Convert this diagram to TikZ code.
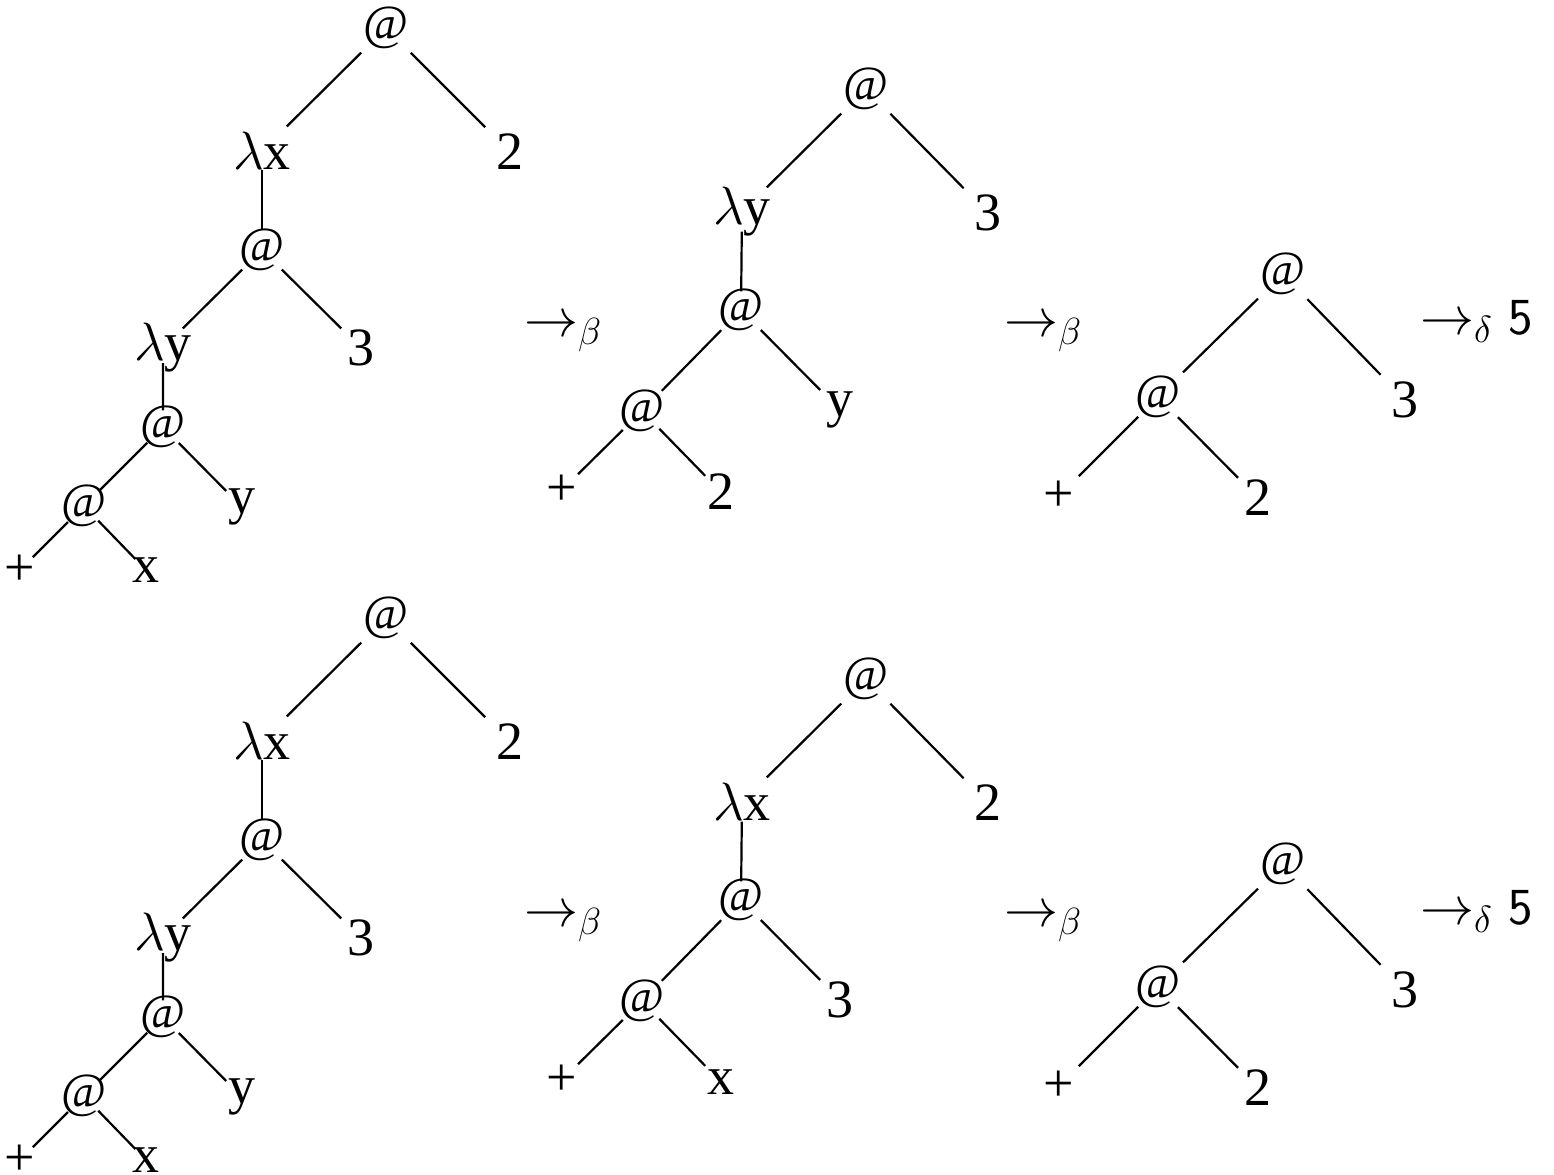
\RequirePackage{fix-cm}
\documentclass[tikz,border=0pt]{standalone}
\usepackage{fontspec}
\setmainfont{Liberation Serif}
\usetikzlibrary{calc}
\newcommand\tedge[4]{\draw[edge] ($(#1)!#3!(#2)$) -- ($(#1)!#4!(#2)$);}
\newcommand\AT{{\fontsize{24.5}{26}\selectfont @}}
% tree with two lambdas (left column)
\newcommand\treeA[1]{%
  \node[lab] (#1a1) at (386,28) {\AT};
  \node[lab] (#1a2) at (262,151) {$\lambda$x};
  \node[lab] (#1a3) at (510,152) {2};
  \node[lab] (#1a4) at (262,250) {\AT};
  \node[lab] (#1a5) at (163,348) {$\lambda$y};
  \node[lab] (#1a6) at (361,348) {3};
  \node[lab] (#1a7) at (163,427) {\AT};
  \node[lab] (#1a8) at (242,507) {y};
  \node[lab] (#1a9) at (84,506) {\AT};
  \node[lab] (#1a10) at (20,570) {+};
  \node[lab] (#1a11) at (146,570) {x};
  \tedge{#1a1}{#1a2}{0.2}{0.8}
  \tedge{#1a1}{#1a3}{0.2}{0.8}
  \tedge{#1a2}{#1a4}{0.19}{0.8}
  \tedge{#1a4}{#1a5}{0.2}{0.8}
  \tedge{#1a4}{#1a6}{0.2}{0.8}
  \tedge{#1a5}{#1a7}{0.19}{0.79}
  \tedge{#1a7}{#1a9}{0.2}{0.8}
  \tedge{#1a7}{#1a8}{0.2}{0.8}
  \tedge{#1a9}{#1a10}{0.25}{0.8}
  \tedge{#1a9}{#1a11}{0.23}{0.83}
}
% tree with one lambda (middle column)
\newcommand\treeB[5]{%
  \node[lab] (#1b1) at (866,89) {\AT};
  \node[lab] (#1b2) at (742,212) {$\lambda$#2};
  \node[lab] (#1b3) at (988,213) {#3};
  \node[lab] (#1b4) at (741,310) {\AT};
  \node[lab] (#1b5) at (642,411) {\AT};
  \node[lab] (#1b6) at (840,410) {#4};
  \node[lab] (#1b7) at (562,490) {+};
  \node[lab] (#1b8) at (721,492) {#5};
  \tedge{#1b1}{#1b2}{0.2}{0.8}
  \tedge{#1b1}{#1b3}{0.2}{0.8}
  \tedge{#1b2}{#1b4}{0.2}{0.81}
  \tedge{#1b4}{#1b5}{0.2}{0.8}
  \tedge{#1b4}{#1b6}{0.2}{0.8}
  \tedge{#1b5}{#1b7}{0.24}{0.8}
  \tedge{#1b5}{#1b8}{0.22}{0.8}
}
% tree without lambda (right column)
\newcommand\treeC[1]{%
  \node[lab] (#1c1) at (1283,274) {\AT};
  \node[lab] (#1c2) at (1158,397) {\AT};
  \node[lab] (#1c3) at (1405,400) {3};
  \node[lab] (#1c4) at (1059,496) {+};
  \node[lab] (#1c5) at (1258,498) {2};
  \tedge{#1c1}{#1c2}{0.2}{0.8}
  \tedge{#1c1}{#1c3}{0.2}{0.8}
  \tedge{#1c2}{#1c4}{0.2}{0.8}
  \tedge{#1c2}{#1c5}{0.2}{0.8}
}
\newcommand\arrows[1]{%
  \node[arr] (#1r1) at (524,336) {$\rightarrow_{\beta}$};
  \node[arr] (#1r2) at (1004,336) {$\rightarrow_{\beta}$};
  \node[arr] (#1r3) at (1420,334) {$\rightarrow_{\delta}$\hspace{8pt}{\fontsize{26}{28}\selectfont\sffamily 5}};
}
\begin{document}
\begin{tikzpicture}[x=0.5pt,y=-0.5pt,
  lab/.style={inner sep=0pt, outer sep=0pt, font=\fontsize{27}{30}\selectfont},
  edge/.style={line width=1.1pt, line cap=butt},
  arr/.style={inner sep=0pt, outer sep=0pt, anchor=base west, font=\fontsize{27}{30}\selectfont}]
\useasboundingbox (0,0) rectangle (1554,1174);
\begin{scope}
  \treeA{t}
  \treeB{t}{y}{3}{y}{2}
  \treeC{t}
  \arrows{t}
\end{scope}
\begin{scope}[shift={(0,590)}]
  \treeA{u}
  \treeB{u}{x}{2}{3}{x}
  \treeC{u}
  \arrows{u}
\end{scope}
\end{tikzpicture}
\end{document}
